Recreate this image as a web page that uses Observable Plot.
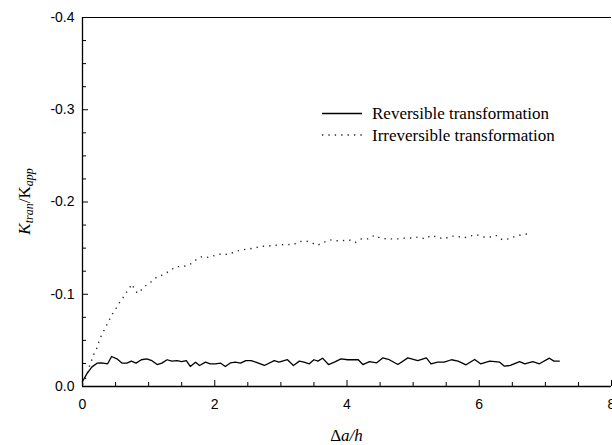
<!DOCTYPE html>
<html>
<head>
<meta charset="utf-8">
<script src="https://cdn.jsdelivr.net/npm/d3@7"></script>
<script src="https://cdn.jsdelivr.net/npm/@observablehq/plot@0.6"></script>
<style>
  html, body { margin: 0; padding: 0; background: #fff; }
  #chart svg { display: block; }
</style>
</head>
<body>
<div id="chart"></div>
<script>
// Reversible transformation (solid line)
const revX = [0, 0.015, 0.065, 0.14, 0.22, 0.29, 0.38, 0.44, 0.52, 0.60, 0.67, 0.74, 0.81, 0.89, 0.97, 1.05, 1.13, 1.20, 1.28, 1.35, 1.43, 1.50, 1.57, 1.63, 1.71, 1.77, 1.86, 1.93, 2.01, 2.09, 2.16, 2.24, 2.31, 2.39, 2.47, 2.55, 2.62, 2.75, 2.90, 2.97, 3.10, 3.19, 3.28, 3.35, 3.43, 3.50, 3.56, 3.63, 3.72, 3.81, 3.91, 4.01, 4.11, 4.17, 4.24, 4.34, 4.45, 4.54, 4.64, 4.77, 4.92, 5.07, 5.20, 5.27, 5.37, 5.47, 5.58, 5.68, 5.80, 5.93, 6.02, 6.16, 6.31, 6.38, 6.47, 6.61, 6.69, 6.81, 6.91, 7.06, 7.13, 7.21];
const revY = [-0.0055, -0.0073, -0.0137, -0.021, -0.0253, -0.0257, -0.0246, -0.0325, -0.030, -0.0253, -0.0253, -0.0275, -0.0253, -0.029, -0.030, -0.028, -0.0238, -0.0253, -0.029, -0.0275, -0.028, -0.027, -0.028, -0.0217, -0.0264, -0.0228, -0.0264, -0.0246, -0.0246, -0.0253, -0.0217, -0.0257, -0.0264, -0.0253, -0.028, -0.028, -0.0264, -0.0228, -0.028, -0.0264, -0.029, -0.0228, -0.0275, -0.0264, -0.0246, -0.029, -0.0275, -0.0307, -0.0238, -0.0264, -0.030, -0.029, -0.029, -0.029, -0.0238, -0.027, -0.0257, -0.031, -0.029, -0.0238, -0.031, -0.028, -0.031, -0.0246, -0.0264, -0.0264, -0.029, -0.0275, -0.0235, -0.0293, -0.0246, -0.0275, -0.0264, -0.022, -0.0228, -0.027, -0.0246, -0.027, -0.0246, -0.0307, -0.0275, -0.0275];

// Irreversible transformation (dotted line)
const irrX = [0, 0.04, 0.10, 0.17, 0.22, 0.25, 0.29, 0.34, 0.39, 0.44, 0.50, 0.56, 0.63, 0.69, 0.75, 0.79, 0.84, 0.93, 1.03, 1.13, 1.22, 1.33, 1.42, 1.52, 1.62, 1.71, 1.81, 1.90, 2.00, 2.11, 2.20, 2.30, 2.40, 2.50, 2.60, 2.69, 2.79, 2.89, 2.98, 3.09, 3.18, 3.28, 3.37, 3.46, 3.55, 3.64, 3.74, 3.83, 3.93, 4.03, 4.12, 4.22, 4.32, 4.42, 4.50, 4.60, 4.69, 4.79, 4.89, 4.98, 5.08, 5.18, 5.28, 5.37, 5.47, 5.57, 5.66, 5.76, 5.86, 5.96, 6.06, 6.16, 6.25, 6.35, 6.44, 6.55, 6.64, 6.74];
const irrY = [-0.002, -0.0076, -0.021, -0.0347, -0.042, -0.049, -0.056, -0.063, -0.0697, -0.0773, -0.0838, -0.091, -0.098, -0.105, -0.111, -0.104, -0.101, -0.108, -0.113, -0.119, -0.121, -0.126, -0.130, -0.130, -0.132, -0.137, -0.141, -0.140, -0.142, -0.144, -0.143, -0.146, -0.148, -0.149, -0.150, -0.152, -0.152, -0.153, -0.1535, -0.154, -0.1535, -0.157, -0.158, -0.156, -0.153, -0.156, -0.159, -0.158, -0.158, -0.159, -0.156, -0.160, -0.160, -0.164, -0.161, -0.160, -0.160, -0.160, -0.161, -0.161, -0.162, -0.160, -0.164, -0.1615, -0.160, -0.163, -0.163, -0.161, -0.163, -0.1645, -0.162, -0.162, -0.164, -0.159, -0.160, -0.163, -0.1645, -0.1655];

const seriesNames = ["Reversible transformation", "Irreversible transformation"];
const xMajorTicks = [0, 2, 4, 6, 8];
const xMinorTicks = [0.5, 1, 1.5, 2.5, 3, 3.5, 4.5, 5, 5.5, 6.5, 7, 7.5];
const yMajorTicks = [0, -0.1, -0.2, -0.3, -0.4];
const yMinorTicks = [-0.025, -0.05, -0.075, -0.125, -0.15, -0.175, -0.225, -0.25, -0.275, -0.325, -0.35, -0.375];

const W = 612, H = 445, mL = 82, mR = 1, mT = 17, mB = 59;
const plotW = W - mL - mR, plotH = H - mT - mB;

const rev = revX.map((x, i) => ({x, y: revY[i]}));
const irr = irrX.map((x, i) => ({x, y: irrY[i]}));

const chart = Plot.plot({
  width: W, height: H,
  marginLeft: mL, marginRight: mR, marginTop: mT, marginBottom: mB,
  style: {fontFamily: "'Liberation Sans', Arial, sans-serif", fontSize: "14px", color: "#000", background: "#fff"},
  x: {domain: [0, 8]},
  y: {domain: [0, -0.4]},
  marks: [
    // inward ticks
    Plot.tickX(xMajorTicks, {x: d => d, insetTop: plotH - 6, stroke: "#000", strokeWidth: 1}),
    Plot.tickX(xMinorTicks, {x: d => d, insetTop: plotH - 4, stroke: "#000", strokeWidth: 1}),
    Plot.tickY(yMajorTicks, {y: d => d, insetRight: plotW - 6, stroke: "#000", strokeWidth: 1}),
    Plot.tickY(yMinorTicks, {y: d => d, insetRight: plotW - 4, stroke: "#000", strokeWidth: 1}),
    // frame lines
    Plot.ruleX([0], {stroke: "#000", strokeWidth: 1.3}),
    Plot.ruleY([0], {stroke: "#000", strokeWidth: 1.3}),
    Plot.ruleY([-0.4], {stroke: "#000", strokeWidth: 1}),
    // tick labels
    Plot.axisX({ticks: xMajorTicks, tickSize: 0, tickPadding: 13, tickFormat: d => String(d), label: null, fill: "#000"}),
    Plot.axisY({ticks: yMajorTicks, tickSize: 0, tickPadding: 8, tickFormat: d => d === 0 ? "0.0" : d.toFixed(1), label: null, fill: "#000"}),
    // data
    Plot.line(irr, {x: "x", y: "y", stroke: "#222", strokeWidth: 1.4, strokeDasharray: "1.3,5.1", strokeLinecap: "butt"}),
    Plot.line(rev, {x: "x", y: "y", stroke: "#000", strokeWidth: 1.3})
  ]
});

document.getElementById("chart").appendChild(chart);

// axis titles and legend as real SVG text
const svg = d3.select(chart);
const serif = "'Liberation Serif', 'Times New Roman', serif";

// y title
const yt = svg.append("text")
  .attr("transform", `translate(${26},${(mT + H - mB) / 2}) rotate(-90)`)
  .attr("text-anchor", "middle")
  .attr("dominant-baseline", "middle")
  .style("font-family", serif).style("font-size", "17px").attr("fill", "#000");
yt.append("tspan").style("font-style", "italic").text("K");
yt.append("tspan").style("font-style", "italic").style("font-size", "12px").attr("dy", "4").text("tran");
yt.append("tspan").attr("dy", "-4").text("/K");
yt.append("tspan").style("font-style", "italic").style("font-size", "12px").attr("dy", "4").text("app");

// x title
const xt = svg.append("text")
  .attr("x", mL + plotW / 2).attr("y", 441)
  .attr("text-anchor", "middle")
  .style("font-family", serif).style("font-size", "17px").attr("fill", "#000");
xt.append("tspan").text("\u0394");
xt.append("tspan").style("font-style", "italic").text("a/h");

// legend
const lg = svg.append("g").attr("text-anchor", "start");
lg.append("line").attr("x1", 322).attr("x2", 362).attr("y1", 113.5).attr("y2", 113.5)
  .attr("stroke", "#000").attr("stroke-width", 1.3);
lg.append("text").attr("x", 372).attr("y", 119).attr("text-anchor", "start")
  .style("font-family", serif).style("font-size", "17px").attr("fill", "#000").text(seriesNames[0]);
lg.append("line").attr("x1", 322).attr("x2", 362).attr("y1", 135).attr("y2", 135)
  .attr("stroke", "#222").attr("stroke-width", 1.4).attr("stroke-dasharray", "1.3,5.1");
lg.append("text").attr("x", 372).attr("y", 140.5).attr("text-anchor", "start")
  .style("font-family", serif).style("font-size", "17px").attr("fill", "#000").text(seriesNames[1]);
</script>
</body>
</html>
